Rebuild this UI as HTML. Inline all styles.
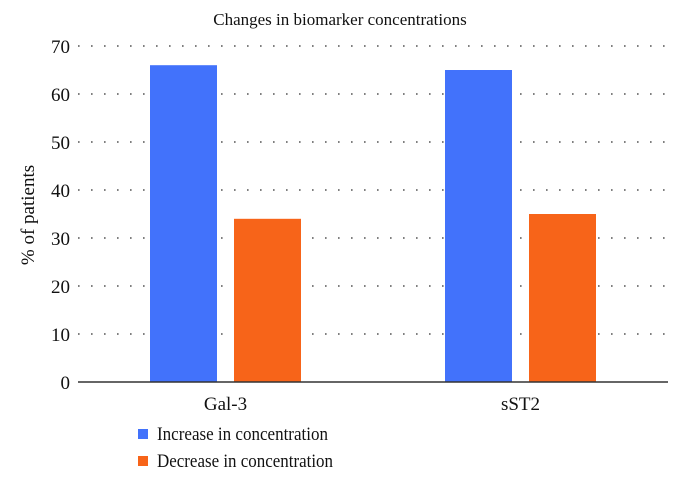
<!DOCTYPE html>
<html><head><meta charset="utf-8"><style>
body{margin:0;background:#fff}
svg text{font-family:"Liberation Serif",serif;fill:#111}
</style></head><body>
<svg width="680" height="482" id="c">
<text x="340" y="25" font-size="17" text-anchor="middle">Changes in biomarker concentrations</text>
<text transform="translate(34,215) rotate(-90)" font-size="19" text-anchor="middle">% of patients</text>
<g id="grid"></g><g id="bars"></g><g id="labels"></g>
<line x1="78" y1="382" x2="668" y2="382" stroke="#333" stroke-width="1.5"/>
<rect x="138" y="429" width="10" height="10" fill="#4272fb"/>
<text x="157" y="440" font-size="19" textLength="171" lengthAdjust="spacingAndGlyphs">Increase in concentration</text>
<rect x="138" y="456" width="10" height="10" fill="#f76419"/>
<text x="157" y="467" font-size="19" textLength="176" lengthAdjust="spacingAndGlyphs">Decrease in concentration</text>
</svg>
<script>
const categories=["Gal-3","sST2"];
const increaseValues=[66,65];
const decreaseValues=[34,35];
const yTicks=[0,10,20,30,40,50,60,70];
const NS="http://www.w3.org/2000/svg";
const x0=78,x1=668,y0=382,yTop=46,yMax=70;
const y=v=>y0-(y0-yTop)*v/yMax;
const band=(x1-x0)/categories.length;
const cx=i=>x0+band*(i+0.5);
function mk(t,a,p){const e=document.createElementNS(NS,t);for(const k in a)e.setAttribute(k,a[k]);p.appendChild(e);return e;}
const g=document.getElementById('grid'),b=document.getElementById('bars'),l=document.getElementById('labels');
yTicks.forEach(t=>{
  if(t>0){const ln=mk('line',{x1:x0,x2:x1,y1:y(t),y2:y(t),stroke:'#555','stroke-width':1.6,'stroke-dasharray':'1.6 11.4'},g);
  
  }
  const tx=mk('text',{x:70,y:y(t)+7,'font-size':19,'text-anchor':'end'},g);tx.textContent=t;
  
  
});
const bw=67,gap=17;
categories.forEach((c,i)=>{
  const r1=mk('rect',{x:cx(i)-gap/2-bw,y:y(increaseValues[i]),width:bw,height:y0-y(increaseValues[i]),fill:'#4272fb'},b);
  
  
  const r2=mk('rect',{x:cx(i)+gap/2,y:y(decreaseValues[i]),width:bw,height:y0-y(decreaseValues[i]),fill:'#f76419'},b);
  
  
  const t=mk('text',{x:cx(i),y:410,'font-size':19,'text-anchor':'middle'},l);t.textContent=c;
  
  
});
</script>
</body></html>
